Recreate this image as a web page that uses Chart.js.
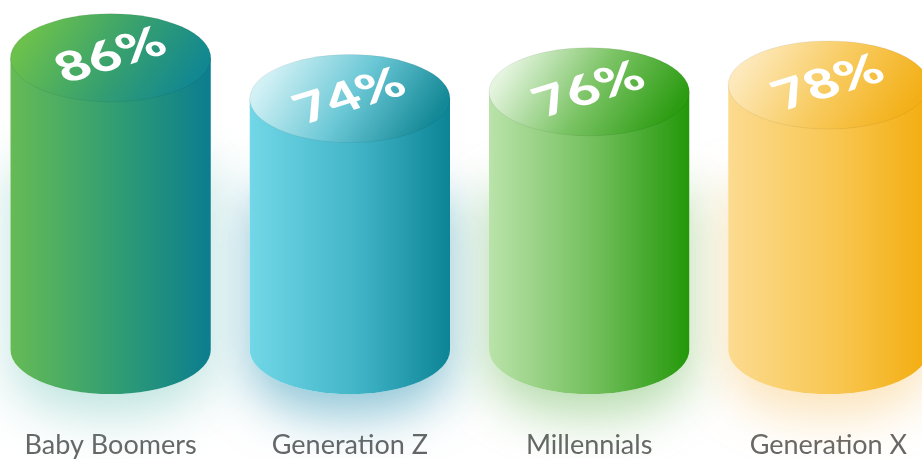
<!DOCTYPE html>
<html>
<head>
<meta charset="utf-8">
<script src="https://cdn.jsdelivr.net/npm/chart.js@4.4.1/dist/chart.umd.min.js"></script>
<style>
  html, body { margin: 0; padding: 0; background: #fff; overflow: hidden; }
  #wrap { position: absolute; left: -9px; top: 0; width: 957px; height: 459px; }
</style>
</head>
<body>
<div id="wrap"><canvas id="cilindros"></canvas></div>
<script>
// datos
var generaciones = ["Baby Boomers", "Generation Z", "Millennials", "Generation X"];
var porcentajes = [86, 74, 76, 78];

// colores de cada cilindro
var cuerpoColores = [
    ["#66bb55", "#2f9c74", "#0b7d8f"],
    ["#72d7e7", "#40b4c6", "#0c8496"],
    ["#bae3aa", "#6fbd58", "#23980a"],
    ["#fcdb90", "#f8c650", "#f3ad0e"]
];
var tapaColores = [
    ["#6cc14c", "#3aa26c", "#118791"],
    ["#d2f1f5", "#6cc8d6", "#138896"],
    ["#e4f4de", "#7cc466", "#2c9c12"],
    ["#fde9bc", "#f8cb60", "#f3af16"]
];
var halos = [
    "rgba(110, 195, 185, 0.45)",
    "rgba(50, 150, 180, 0.55)",
    "rgba(90, 175, 70, 0.45)",
    "rgba(245, 185, 80, 0.40)"
];

function trazoCuerpo(ctx, x, arriba, base, rx, ry) {
    ctx.beginPath();
    ctx.moveTo(x - rx, arriba);
    ctx.lineTo(x - rx, base);
    ctx.ellipse(x, base, rx, ry, 0, Math.PI, 0, true);
    ctx.lineTo(x + rx, arriba);
    ctx.closePath();
}

var pluginCilindros = {
    id: "cilindros3d",
    afterDatasetsDraw: function (chart) {
        var ctx = chart.ctx;
        var barras = chart.getDatasetMeta(0).data;

        // halos de color debajo
        barras.forEach(function (b, i) {
            var rx = b.width / 2, ry = rx * 0.44;
            ctx.save();
            ctx.shadowColor = halos[i];
            ctx.shadowBlur = 50;
            ctx.shadowOffsetY = 22;
            ctx.fillStyle = "#fff";
            trazoCuerpo(ctx, b.x, b.y + (b.base - b.y) * 0.3, b.base, rx, ry);
            ctx.fill();
            ctx.restore();
        });

        barras.forEach(function (b, i) {
            var rx = b.width / 2, ry = rx * 0.44;
            var x = b.x, y = b.y;

            // cuerpo
            var g = ctx.createLinearGradient(x - rx, 0, x + rx, 0);
            g.addColorStop(0, cuerpoColores[i][0]);
            g.addColorStop(0.55, cuerpoColores[i][1]);
            g.addColorStop(1, cuerpoColores[i][2]);
            ctx.save();
            ctx.fillStyle = g;
            trazoCuerpo(ctx, x, y, b.base, rx, ry);
            ctx.fill();
            ctx.restore();

            // tapa
            var t = ctx.createLinearGradient(x - rx * 0.7, y - ry, x + rx * 0.7, y + ry);
            t.addColorStop(0, tapaColores[i][0]);
            t.addColorStop(0.5, tapaColores[i][1]);
            t.addColorStop(1, tapaColores[i][2]);
            ctx.save();
            ctx.beginPath();
            ctx.ellipse(x, y, rx, ry, 0, 0, Math.PI * 2);
            ctx.fillStyle = t;
            ctx.fill();
            ctx.lineWidth = 1;
            ctx.strokeStyle = "rgba(0, 0, 0, 0.06)";
            ctx.stroke();
            ctx.restore();

            // porcentaje
            ctx.save();
            ctx.translate(x, y - 2);
            ctx.scale(1.15, 0.82);
            ctx.rotate(-0.4);
            ctx.font = "900 50px Lato";
            ctx.fillStyle = "#fff";
            ctx.textAlign = "center";
            ctx.textBaseline = "middle";
            ctx.fillText(porcentajes[i] + "%", 0, 0);
            ctx.restore();
        });
    }
};

var grafica = new Chart(document.getElementById("cilindros"), {
    type: "bar",
    data: {
        labels: generaciones,
        datasets: [{
            data: porcentajes,
            backgroundColor: "rgba(0, 0, 0, 0)",
            categoryPercentage: 0.837,
            barPercentage: 1
        }]
    },
    options: {
        responsive: true,
        maintainAspectRatio: false,
        animation: false,
        layout: { padding: 0 },
        plugins: {
            legend: { display: false },
            tooltip: { enabled: false }
        },
        scales: {
            x: {
                grid: { display: false, drawTicks: false },
                border: { display: false },
                ticks: {
                    color: "#666",
                    font: { family: "Lato", size: 27 },
                    padding: 79,
                    maxRotation: 0,
                    minRotation: 0,
                    autoSkip: false
                },
                // sin relleno automatico: el area llega hasta y=350
                afterFit: function (escala) {
                    escala.height = 109;
                    escala.paddingLeft = 0;
                    escala.paddingRight = 0;
                }
            },
            y: { display: false, min: 0, max: 103 }
        }
    },
    plugins: [pluginCilindros]
});
</script>
</body>
</html>
